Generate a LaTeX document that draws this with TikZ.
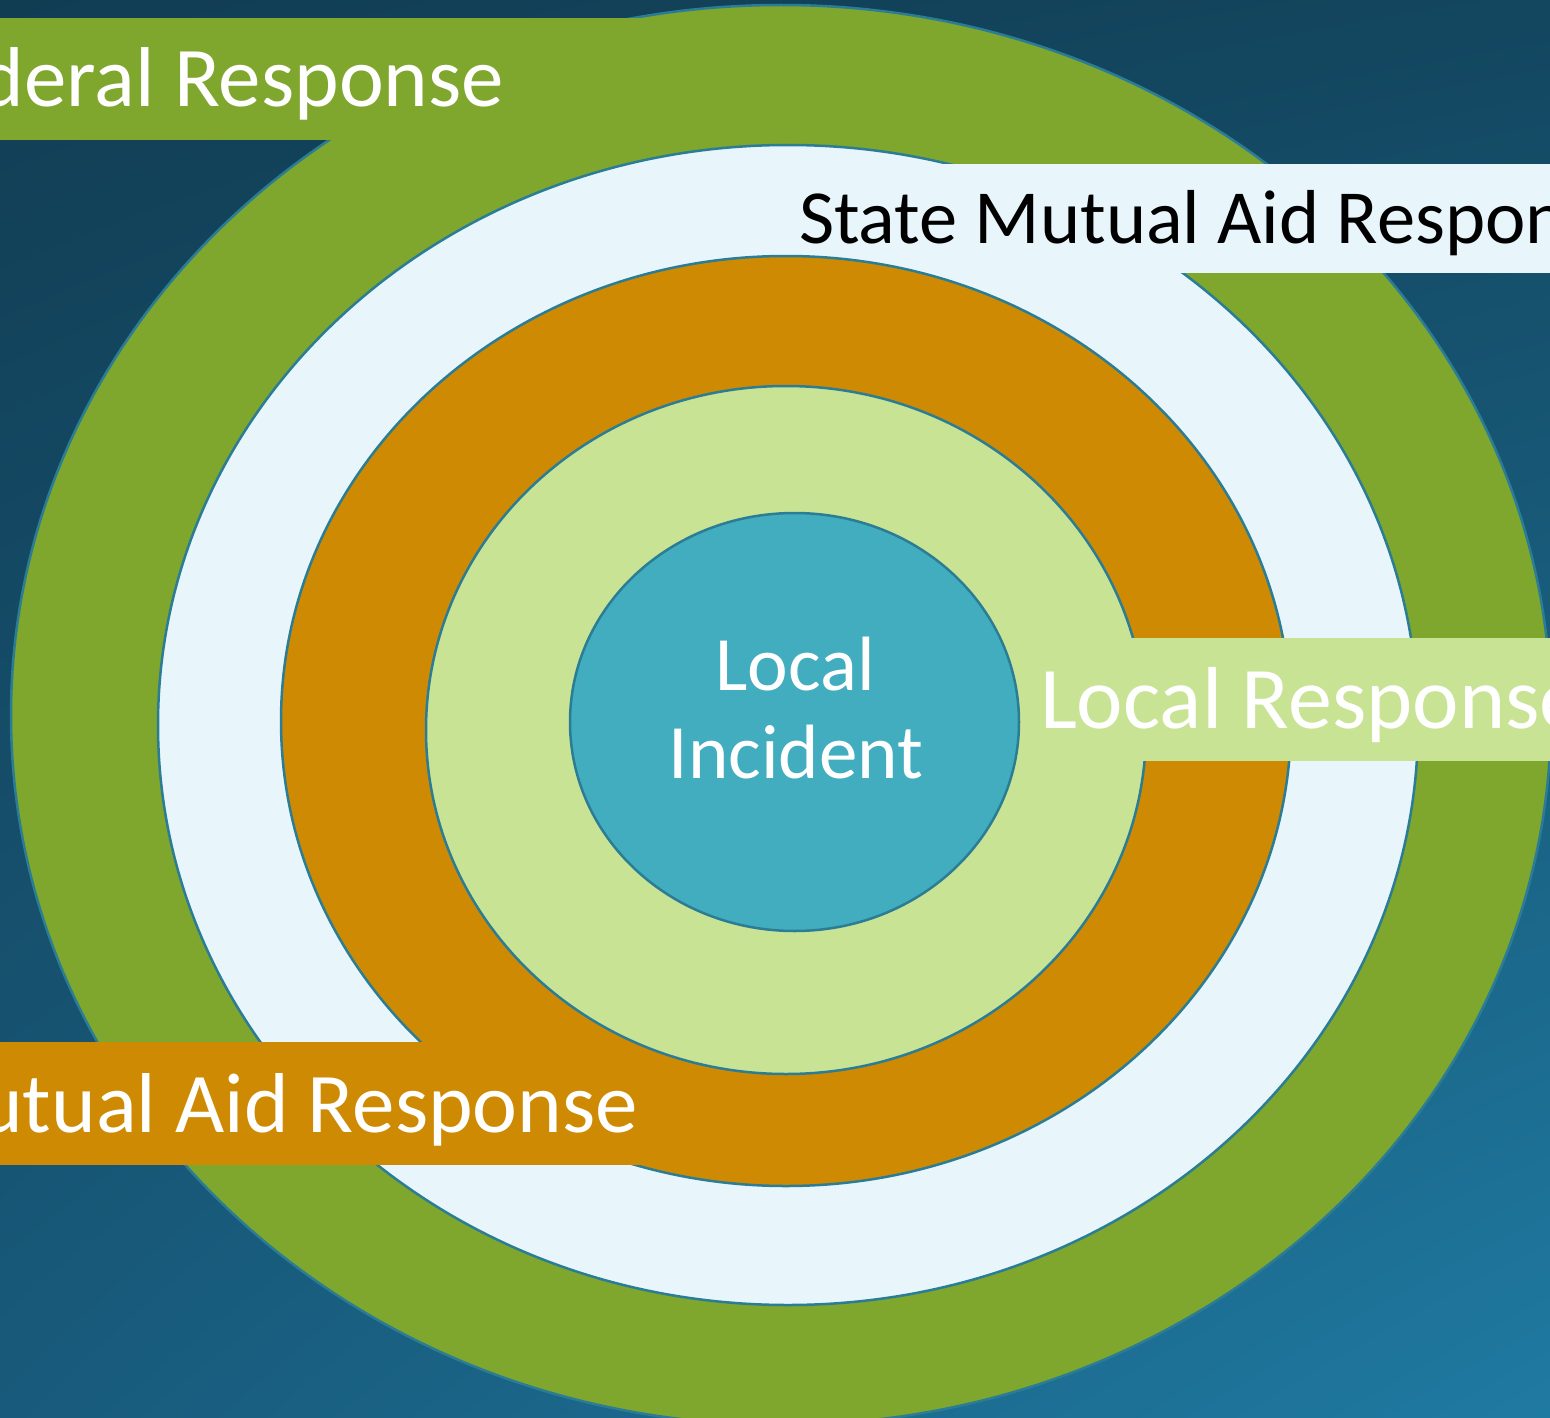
\documentclass[tikz,border=0pt]{standalone}
\usepackage{fontspec}
\setmainfont{Carlito}
\usetikzlibrary{shapes.geometric,shadings}
\definecolor{bgTL}{HTML}{113D53}
\definecolor{bgTR}{HTML}{13465F}
\definecolor{bgBL}{HTML}{185A7B}
\definecolor{bgBR}{HTML}{1F7AA2}
\definecolor{ringline}{HTML}{2B7D95}
\definecolor{fedgreen}{HTML}{7FA62D}
\definecolor{stateblue}{HTML}{E8F6FB}
\definecolor{mutualorange}{HTML}{CE8A03}
\definecolor{localgreen}{HTML}{C8E394}
\definecolor{incidentteal}{HTML}{41ADBE}
\tikzset{
  ring/.style={ellipse, draw=ringline, line width=2.5pt, inner sep=0pt, outer sep=0pt},
  lbl/.style={inner sep=0pt, outer sep=0pt},
  bigfont/.style={font=\fontsize{85}{100}\selectfont},
}
\begin{document}
\begin{tikzpicture}[x=1pt,y=-1pt]
\useasboundingbox (0,0) rectangle (1550,1418);
\clip (0,0) rectangle (1550,1418);
\shade[upper left=bgTL, upper right=bgTR, lower left=bgBL, lower right=bgBR] (0,0) rectangle (1550,1418);

% outer ring: federal
\node[ring, fill=fedgreen, minimum width=1540pt, minimum height=1420pt] (federal) at (781,715) {};
\fill[fedgreen] (-10,18) rectangle (700,140);
% state ring
\node[ring, fill=stateblue, minimum width=1260pt, minimum height=1160pt] (state) at (788,725) {};
\fill[stateblue] (900,164) rectangle (1560,273);
% mutual aid ring
\node[ring, fill=mutualorange, minimum width=1010pt, minimum height=930pt] (mutual) at (786,721) {};
\fill[mutualorange] (-10,1042) rectangle (660,1165);
% local response ring
\node[ring, fill=localgreen, minimum width=720pt, minimum height=688pt] (localresp) at (786,730) {};
\fill[localgreen] (1100,638) rectangle (1560,761);
% incident
\node[ring, fill=incidentteal, minimum width=449pt, minimum height=418pt] (incident) at (794.5,722) {};

% labels
\node[lbl, bigfont, text=white, anchor=base east] (fedtext) at (504,107) {Federal Response};
\node[lbl, font=\fontsize{76.5}{90}\selectfont, text=black, anchor=base west] (statetext) at (799,243) {State Mutual Aid Response};
\node[lbl, bigfont, text=white, anchor=base east] (mutualtext) at (638,1132) {Mutual Aid Response};
\node[lbl, font=\fontsize{88}{100}\selectfont, text=white, anchor=base west] (localtext) at (1040,728) {Local Response};
\node[lbl, font=\fontsize{77}{90}\selectfont, text=white, anchor=base] (inc1) at (795,690) {Local};
\node[lbl, font=\fontsize{77}{90}\selectfont, text=white, anchor=base] (inc2) at (796,778) {Incident};
\end{tikzpicture}
\end{document}
